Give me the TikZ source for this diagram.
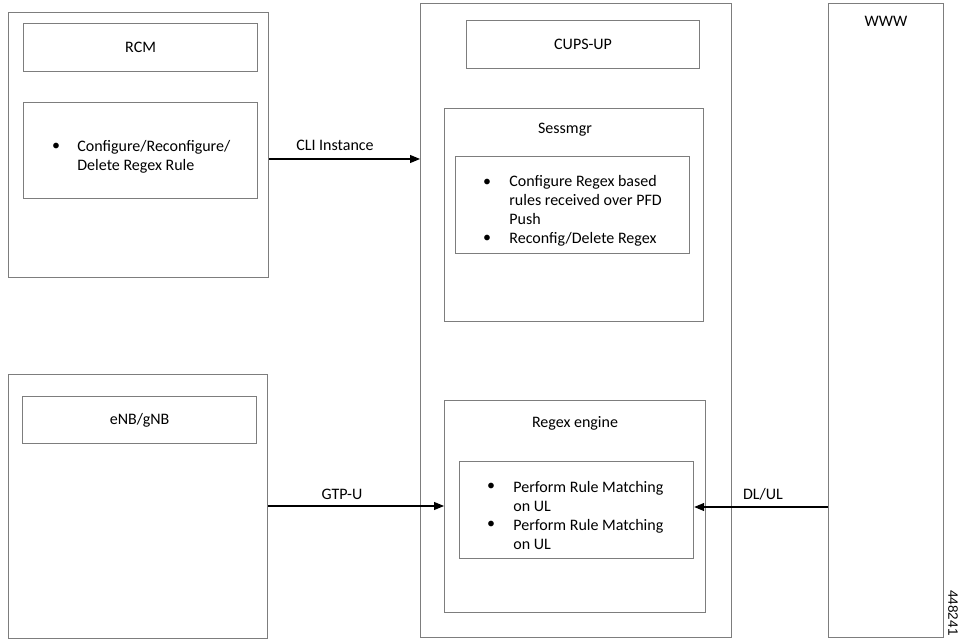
\documentclass[tikz,border=0pt]{standalone}
\usepackage{fontspec}
\setmainfont{Carlito}
\newfontfamily\figfont{Liberation Sans}
\usetikzlibrary{arrows.meta, positioning}
\definecolor{boxgray}{RGB}{125,125,125}

\begin{document}
\begin{tikzpicture}[x=0.5pt, y=-0.5pt,
    box/.style={draw=boxgray, line width=0.6pt, inner sep=0pt, anchor=north west,
      font=\fontsize{8}{9.4}\selectfont},
    txt/.style={inner sep=0pt, font=\fontsize{8}{9.4}\selectfont, align=left},
    arr/.style={-{Triangle[length=5pt, width=4pt]}, line width=0.55pt}]
  \useasboundingbox (0,0) rectangle (963,641);

  % RCM side
  \node[box, minimum width=130pt, minimum height=132.5pt] (rcm) at (8,12) {};
  \node[box, minimum width=117pt, minimum height=24pt] (rcmtitle) at (23,23) {RCM};
  \node[box, minimum width=117pt, minimum height=48pt] (rcmcfg) at (23,102) {};
  \node[txt] (rcmdot) at (56,147) {\textbullet};
  \node[txt, anchor=west] (rcmtext) at (77,156.5) {Configure/Reconfigure/\\Delete Regex Rule};

  % eNB side
  \node[box, minimum width=129.5pt, minimum height=132pt] (enb) at (8,374) {};
  \node[box, minimum width=117pt, minimum height=23.5pt] (enbtitle) at (22,396) {eNB/gNB};

  % CUPS-UP
  \node[box, minimum width=155.5pt, minimum height=317pt] (cups) at (420,3) {};
  \node[box, minimum width=116.5pt, minimum height=24pt] (cupstitle) at (466,20) {CUPS-UP};

  \node[box, minimum width=129.5pt, minimum height=106.5pt] (sess) at (444,108) {};
  \node[txt] (sesslabel) at (565,130) {Sessmgr};
  \node[box, minimum width=117pt, minimum height=48.5pt] (sesscfg) at (455,156) {};
  \node[txt] (sessdot1) at (487,183) {\textbullet};
  \node[txt, anchor=west] (sesstext1) at (509,200) {Configure Regex based\\rules received over PFD\\Push};
  \node[txt] (sessdot2) at (487,239) {\textbullet};
  \node[txt, anchor=west] (sesstext2) at (509,239) {Reconfig/Delete Regex};

  \node[box, minimum width=130.5pt, minimum height=106pt] (regex) at (444,400) {};
  \node[txt] (regexlabel) at (575,423) {Regex engine};
  \node[box, minimum width=117pt, minimum height=48.5pt] (regexcfg) at (459,461) {};
  \node[txt] (regexdot1) at (491,487) {\textbullet};
  \node[txt, anchor=west] (regextext1) at (513,496.5) {Perform Rule Matching\\on UL};
  \node[txt] (regexdot2) at (491,525) {\textbullet};
  \node[txt, anchor=west] (regextext2) at (513,534.5) {Perform Rule Matching\\on UL};

  % WWW
  \node[box, minimum width=57.5pt, minimum height=317pt] (www) at (828,3) {};
  \node[txt] (wwwlabel) at (886,21) {WWW};

  % Connectors
  \coordinate (cli) at (0,159);
  \coordinate (gtp) at (0,506);
  \coordinate (dlul) at (0,507);
  \draw[arr] (rcm.east |- cli) -- (cups.west |- cli);
  \node[txt] (clilabel) at (335,145) {CLI Instance};
  \draw[arr] (enb.east |- gtp) -- (regex.west |- gtp);
  \node[txt] (gtplabel) at (342,494) {GTP-U};
  \draw[arr] (www.west |- dlul) -- (regexcfg.east |- dlul);
  \node[txt] (dlullabel) at (763,494) {DL/UL};

  % figure number
  \node[inner sep=0pt, rotate=-90, font=\figfont\fontsize{6.8}{8}\selectfont] (fignum) at (953,613) {448241};
\end{tikzpicture}
\end{document}
